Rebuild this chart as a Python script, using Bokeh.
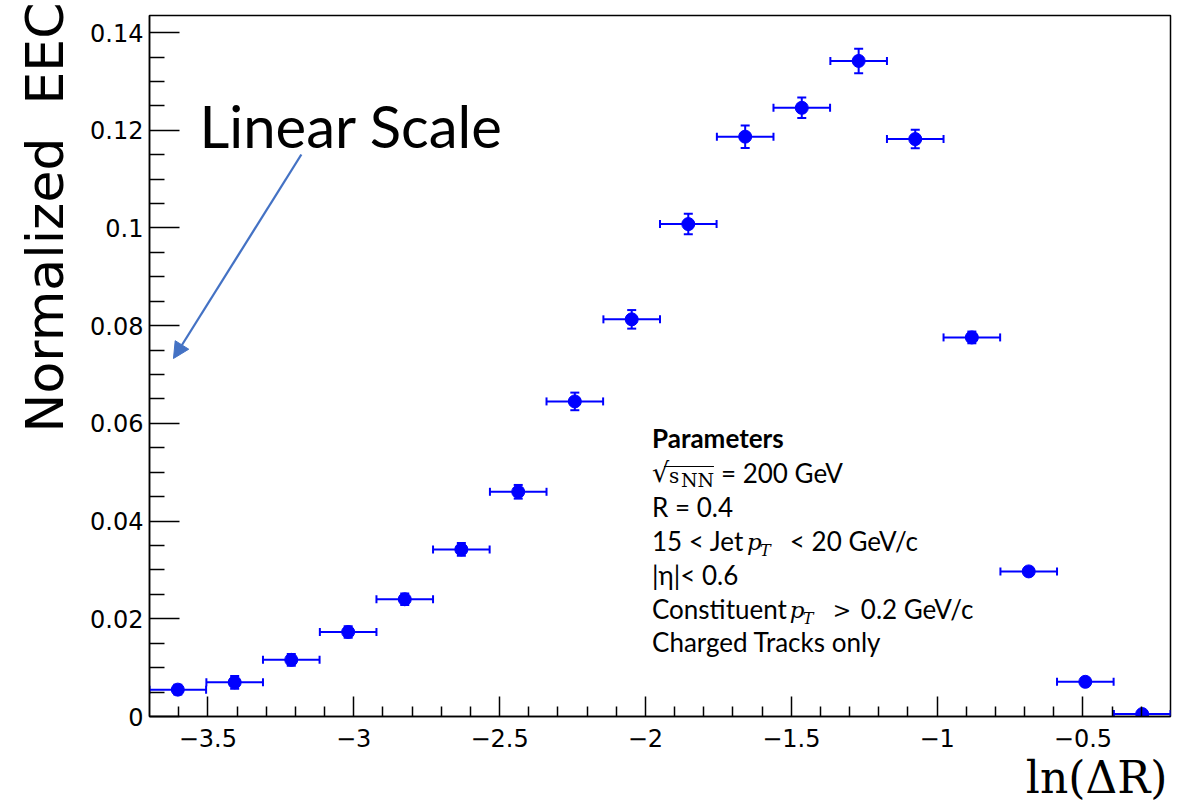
import numpy as np
from bokeh.plotting import figure
from bokeh.models import (ColumnDataSource, Range1d, FixedTicker, CustomJSTickFormatter,
                          Label, Arrow, NormalHead, Title)
from bokeh.embed import file_html
from bokeh.resources import INLINE

# ---------------- data ----------------
ln_dr = [-3.603, -3.408, -3.214, -3.019, -2.825, -2.631, -2.436, -2.242, -2.047,
         -1.853, -1.658, -1.464, -1.269, -1.075, -0.881, -0.686, -0.492, -0.297]
bin_half = [0.097, 0.097, 0.097, 0.097, 0.097, 0.097, 0.097, 0.097, 0.097,
            0.097, 0.097, 0.097, 0.097, 0.097, 0.097, 0.097, 0.097, 0.097]
eec = [0.0055, 0.0070, 0.0116, 0.0173, 0.0240, 0.0342, 0.0460, 0.0645, 0.0813,
       0.1008, 0.1187, 0.1246, 0.1342, 0.1182, 0.0776, 0.0297, 0.0071, 0.0005]
eec_err = [0.0010, 0.0013, 0.0012, 0.0012, 0.0012, 0.0013, 0.0014, 0.0018, 0.0019,
           0.0021, 0.0023, 0.0021, 0.0025, 0.0019, 0.0012, 0.0008, 0.0004, 0.0002]

x_major = [-3.5, -3.0, -2.5, -2.0, -1.5, -1.0, -0.5]
x_minor = [-3.6, -3.4, -3.3, -3.2, -3.1, -2.9, -2.8, -2.7, -2.6, -2.4, -2.3, -2.2, -2.1,
           -1.9, -1.8, -1.7, -1.6, -1.4, -1.3, -1.2, -1.1, -0.9, -0.8, -0.7, -0.6,
           -0.4, -0.3]
y_major = [0.0, 0.02, 0.04, 0.06, 0.08, 0.10, 0.12, 0.14]
y_minor = [0.005, 0.01, 0.015, 0.025, 0.03, 0.035, 0.045, 0.05, 0.055, 0.065, 0.07,
           0.075, 0.085, 0.09, 0.095, 0.105, 0.11, 0.115, 0.125, 0.13, 0.135]

X_RANGE = (-3.7, -0.2)
Y_RANGE = (0.0, 0.1435)

x_title = "ln(\u0394R)"
y_title = "Normalized \u00a0EEC"
annot_text = "Linear Scale"

# ---------------- layout (page pixels) ----------------
W, H = 1176, 808
F_L, F_T, F_R, F_B = 148, 15, 1170, 716
BL, BT, BR, BB = F_L, F_T, W - F_R, H - F_B
FRAME_W = F_R - F_L
FRAME_H = F_B - F_T
BASE_SHIFT = 0.44  # empirical baseline correction (fraction of font size)


def dx(px):
    return X_RANGE[0] + (px - F_L) * (X_RANGE[1] - X_RANGE[0]) / FRAME_W


def dy(py):
    return Y_RANGE[0] + (F_B - py) * (Y_RANGE[1] - Y_RANGE[0]) / FRAME_H


BLUE = "#0000ff"
ARROW = "#4472c4"
ROOT_FONT = "DejaVu Sans"
CAL_FONT = "Lato"
MATH_FONT = "DejaVu Serif"

p = figure(width=W, height=H, x_range=Range1d(*X_RANGE), y_range=Range1d(*Y_RANGE),
           output_backend="svg", toolbar_location=None,
           min_border_left=BL, min_border_right=BR, min_border_top=BT, min_border_bottom=BB,
           background_fill_color="white", border_fill_color="white")
p.xgrid.visible = False
p.ygrid.visible = False
p.outline_line_color = "black"
p.outline_line_width = 1.5
p.outline_line_alpha = 1.0

xa = p.xaxis[0]
xa.ticker = FixedTicker(ticks=x_major, minor_ticks=x_minor)
xa.formatter = CustomJSTickFormatter(code="return tick.toFixed(1).replace(/\\.0$/, '').replace('-', '\\u2212');")
xa.major_tick_in = 20
xa.major_tick_out = 0
xa.minor_tick_in = 10
xa.minor_tick_out = 0
xa.major_label_standoff = 12
xa.major_label_text_font = ROOT_FONT
xa.major_label_text_font_size = "24px"
xa.major_label_text_color = "black"
xa.axis_line_width = 1.5
xa.major_tick_line_width = 1.5
xa.minor_tick_line_width = 1.5

ya = p.yaxis[0]
ya.ticker = FixedTicker(ticks=y_major, minor_ticks=y_minor)
ya.formatter = CustomJSTickFormatter(code="return tick.toFixed(2).replace(/\\.?0+$/, '');")
ya.major_tick_in = 30
ya.major_tick_out = 0
ya.minor_tick_in = 15
ya.minor_tick_out = 0
ya.major_label_standoff = 6
ya.major_label_text_font = ROOT_FONT
ya.major_label_text_font_size = "24px"
ya.major_label_text_color = "black"
ya.axis_line_width = 1.5
ya.major_tick_line_width = 1.5
ya.minor_tick_line_width = 1.5

# axis titles placed as side-panel titles
p.add_layout(Title(text=y_title, align="left", offset=F_B - 432, standoff=25,
                   text_font=ROOT_FONT, text_font_size="52px", text_font_style="normal",
                   text_color="black"), "left")
p.add_layout(Title(text=x_title, align="right", offset=3, standoff=0,
                   text_font=MATH_FONT, text_font_size="44px", text_font_style="normal",
                   text_color="black"), "below")

# ---------------- data marks ----------------
xs = np.array(ln_dr)
hw = np.array(bin_half)
ys = np.array(eec)
es = np.array(eec_err)
src = ColumnDataSource(dict(x=xs, y=ys, x0=xs - hw, x1=xs + hw, y0=ys - es, y1=ys + es))

p.segment(x0="x0", y0="y", x1="x1", y1="y", source=src, line_color=BLUE, line_width=2)
p.segment(x0="x", y0="y0", x1="x", y1="y1", source=src, line_color=BLUE, line_width=2)
p.scatter(x="x0", y="y", source=src, marker="dash", angle=np.pi / 2, size=8,
          line_color=BLUE, line_width=2)
p.scatter(x="x1", y="y", source=src, marker="dash", angle=np.pi / 2, size=8,
          line_color=BLUE, line_width=2)
p.scatter(x="x", y="y0", source=src, marker="dash", size=9, line_color=BLUE, line_width=2)
p.scatter(x="x", y="y1", source=src, marker="dash", size=9, line_color=BLUE, line_width=2)
p.scatter(x="x", y="y", source=src, marker="circle", size=13,
          fill_color=BLUE, line_color=BLUE, line_width=1)

# ---------------- annotations ----------------
def lab(px, py, text, font=CAL_FONT, size=26, style="normal", color="black"):
    """Text inside the frame; (px, py) = left end of the baseline, in page pixels."""
    p.add_layout(Label(x=dx(px), y=dy(py - BASE_SHIFT * size), text=text, text_font=font,
                       text_font_size=f"{size}px", text_font_style=style,
                       text_baseline="alphabetic", text_align="left",
                       text_color=color))

# "Linear Scale" and arrow
lab(198, 151, annot_text, size=58)
p.add_layout(Arrow(x_start=dx(300), y_start=dy(154), x_end=dx(172), y_end=dy(358),
                   line_color=ARROW, line_width=2.25,
                   end=NormalHead(size=16, fill_color=ARROW, line_color=ARROW, line_width=1)))

# Parameters block
PX = 651
lab(PX, 449, "Parameters", style="bold")
lab(PX, 484, "\u221a", font="DejaVu Sans", size=27)
lab(668, 484, "s", font=MATH_FONT, size=20)
lab(680, 488, "NN", font=MATH_FONT, size=19)
p.add_layout(Arrow(x_start=dx(663), y_start=dy(466), x_end=dx(713), y_end=dy(466),
                   start=None, end=None, line_color="black", line_width=1.2))
lab(720, 484, "= 200 GeV")
lab(PX, 518, "R = 0.4")
lab(PX, 552, "15 < Jet")
lab(746, 552, "p", font=MATH_FONT, size=23, style="italic")
lab(759, 557, "T", font=MATH_FONT, size=16, style="italic")
lab(789, 552, "< 20 GeV/c")
lab(PX, 586, "|\u03b7|< 0.6")
lab(PX, 620, "Constituent")
lab(789, 620, "p", font=MATH_FONT, size=23, style="italic")
lab(802, 625, "T", font=MATH_FONT, size=16, style="italic")
lab(832, 620, ">", font=MATH_FONT, size=22)
lab(860, 620, "0.2 GeV/c")
lab(PX, 653, "Charged Tracks only")

open("out.html", "w").write(file_html(p, INLINE))
